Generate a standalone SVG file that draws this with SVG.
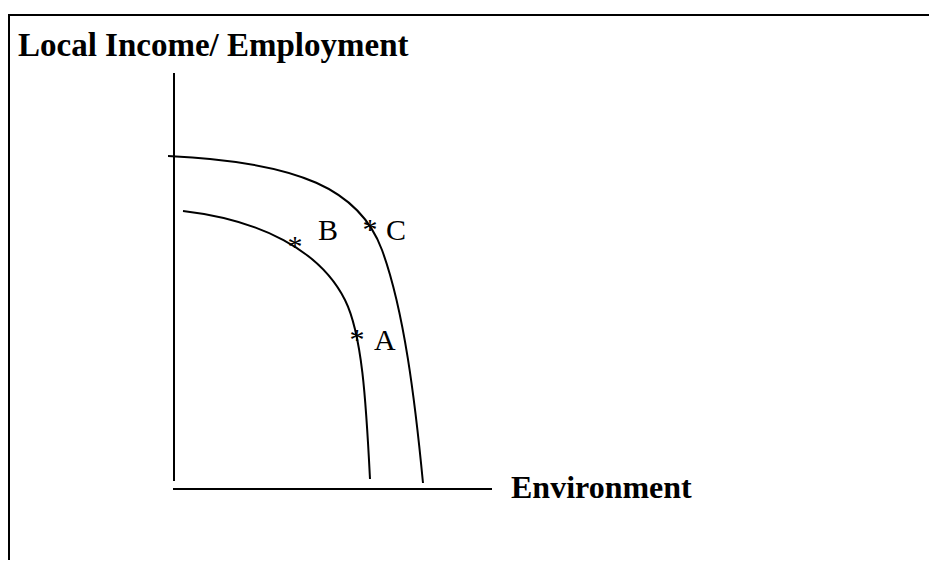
<svg xmlns="http://www.w3.org/2000/svg" width="929" height="565" viewBox="0 0 929 565">
<style>
.ln{fill:none;stroke:#000;stroke-width:2}
.bold{font-family:"Liberation Serif",serif;font-weight:bold;fill:#000}
.lbl{font-family:"Liberation Serif",serif;font-size:30px;fill:#000}
.star{font-family:"Liberation Serif",serif;font-size:30px;fill:#000;text-anchor:middle}
</style>
<rect width="929" height="565" fill="#fff"/>
<g id="frame">
<path class="ln" d="M9,560 V15 H929"/>
</g>
<g id="axes">
<line class="ln" x1="174" y1="73" x2="174" y2="481"/>
<line class="ln" x1="173" y1="489" x2="492" y2="489"/>
</g>
<g id="connectors">
<path id="outer-curve" class="ln" d="M168,156 C300,162 360,190 382,250 C404,310 415,400 423,483"/>
<path id="inner-curve" class="ln" d="M183,211 C260,220 320,250 345,300 C362,334 366,400 370,479"/>
</g>
<g id="ylabel"><text class="bold" x="18" y="56" font-size="33">Local Income/ Employment</text></g>
<g id="xlabel"><text class="bold" x="511" y="498" font-size="32">Environment</text></g>
<g id="pointB"><text class="star" x="295" y="256">*</text><text class="lbl" x="318" y="240">B</text></g>
<g id="pointC"><text class="star" x="370" y="239">*</text><text class="lbl" x="386" y="240">C</text></g>
<g id="pointA"><text class="star" x="357" y="349">*</text><text class="lbl" x="374" y="350">A</text></g>
</svg>
